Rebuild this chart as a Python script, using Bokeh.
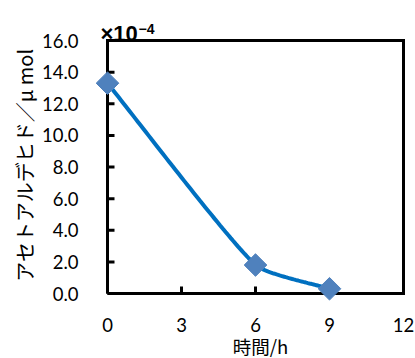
import numpy as np
from bokeh.plotting import figure
from bokeh.models import Range1d
from bokeh.core.properties import value
from bokeh.embed import file_html
from bokeh.resources import INLINE

# ---- data ----
time_h = [0, 6, 9]
acetaldehyde = [13.3, 1.8, 0.3]   # x10^-4 umol
x_ticks = [0, 3, 6, 9, 12]
y_ticks = [0, 2, 4, 6, 8, 10, 12, 14, 16]
x_tick_labels = [str(t) for t in x_ticks]
y_tick_labels = [f"{t:.1f}" for t in y_ticks]
X_MIN, X_MAX = 0, 12
Y_MIN, Y_MAX = 0, 16
x_title = "時間/h"
y_title = "アセトアルデヒド／μ mol"

# ---- layout (pixels) ----
W, H = 415, 358
BOX_L, BOX_R, BOX_T, BOX_B = 107, 403, 40, 293
SX = (BOX_R - BOX_L) / (X_MAX - X_MIN)
SY = (BOX_B - BOX_T) / (Y_MAX - Y_MIN)
XR = (X_MIN - BOX_L / SX, X_MAX + (W - BOX_R) / SX)
YR = (Y_MIN - (H - BOX_B) / SY, Y_MAX + BOX_T / SY)


def smooth(xs, ys, k=0.17, n=60):
    P = np.array([[x * SX, y * SY] for x, y in zip(xs, ys)])
    m = len(P)
    left, right = [None] * m, [None] * m
    for i in range(1, m - 1):
        t = P[i + 1] - P[i - 1]
        t = t / np.linalg.norm(t)
        left[i] = P[i] - t * np.linalg.norm(P[i] - P[i - 1]) * k
        right[i] = P[i] + t * np.linalg.norm(P[i + 1] - P[i]) * k
    right[0] = P[0] + (P[1] - P[0]) * k
    left[m - 1] = P[m - 1] - (P[m - 1] - P[m - 2]) * k
    out = []
    for i in range(m - 1):
        a, b, c, d = P[i], right[i], left[i + 1], P[i + 1]
        for t in np.linspace(0, 1, n):
            q = (1 - t) ** 3 * a + 3 * (1 - t) ** 2 * t * b + 3 * (1 - t) * t ** 2 * c + t ** 3 * d
            out.append(q)
    out = np.array(out)
    return out[:, 0] / SX, out[:, 1] / SY


p = figure(width=W, height=H, output_backend="svg", toolbar_location=None,
           x_range=Range1d(*XR), y_range=Range1d(*YR),
           x_axis_location=None, y_axis_location=None,
           min_border=0)
p.grid.visible = False
p.outline_line_color = None
p.background_fill_color = "white"
p.border_fill_color = "white"

# plot box
p.line([X_MIN, X_MAX, X_MAX, X_MIN, X_MIN], [Y_MIN, Y_MIN, Y_MAX, Y_MAX, Y_MIN],
       line_color="black", line_width=3, line_join="miter")
# inward ticks
TL = 7
p.segment(x0=[X_MIN] * len(y_ticks), x1=[X_MIN + TL / SX] * len(y_ticks),
          y0=y_ticks, y1=y_ticks, line_color="black", line_width=3)
p.segment(x0=x_ticks, x1=x_ticks, y0=[Y_MIN] * len(x_ticks),
          y1=[Y_MIN + TL / SY] * len(x_ticks), line_color="black", line_width=3)

# tick labels
p.text(x=[X_MIN] * len(y_ticks), y=y_ticks, text=y_tick_labels, x_offset=-29,
       text_align="right", text_baseline="middle", text_color="black",
       text_font=value("Lato"), text_font_size="18.5px")
p.text(x=x_ticks, y=[Y_MIN] * len(x_ticks), text=x_tick_labels, y_offset=31,
       text_align="center", text_baseline="middle", text_color="black",
       text_font=value("Lato"), text_font_size="18.5px")

# axis titles
p.text(x=[(X_MIN + X_MAX) / 2], y=[Y_MIN], text=[x_title], x_offset=5, y_offset=52,
       text_align="center", text_baseline="middle", text_color="black",
       text_font=value("Noto Sans CJK JP"), text_font_size="18.5px")
p.text(x=[X_MIN], y=[(Y_MIN + Y_MAX) / 2], text=[y_title], x_offset=-83, y_offset=-2,
       angle=np.pi / 2, text_align="center", text_baseline="middle", text_color="black",
       text_font=value("Noto Sans CJK JP"), text_font_size="20px")

# data
cx, cy = smooth(time_h, acetaldehyde)
p.line(cx, cy, line_color="#0070C0", line_width=4)
p.scatter(time_h, acetaldehyde, marker="square", angle=np.pi / 4, size=16,
          fill_color="#4F81BD", line_color="#4F81BD")

# exponent text
p.text(x=[X_MIN], y=[Y_MAX], text=["×10"], x_offset=-7, y_offset=-7,
       text_font=value("Liberation Sans"), text_font_size="22px",
       text_font_style="bold", text_baseline="alphabetic", text_color="black")
p.text(x=[X_MIN], y=[Y_MAX], text=["−4"], x_offset=31, y_offset=-12,
       text_font=value("Liberation Sans"), text_font_size="14px",
       text_font_style="bold", text_baseline="alphabetic", text_color="black")

open("out.html", "w").write(file_html(p, INLINE))
